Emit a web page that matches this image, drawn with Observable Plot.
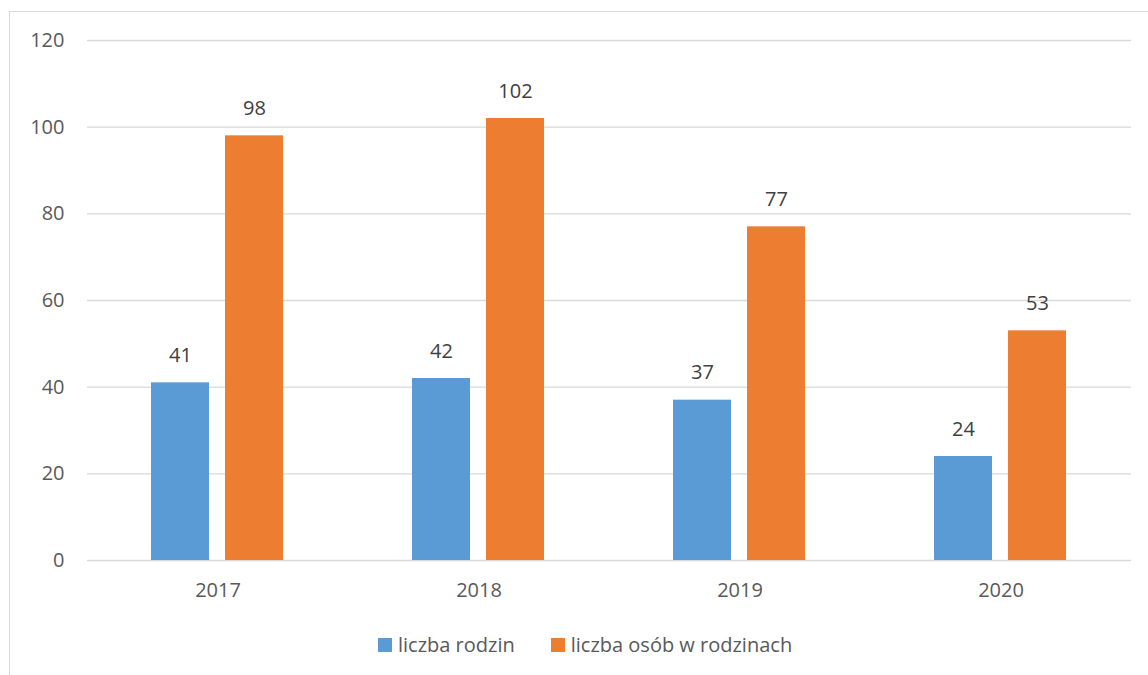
<!DOCTYPE html>
<html>
<head>
<meta charset="utf-8">
<script src="https://cdn.jsdelivr.net/npm/d3@7"></script>
<script src="https://cdn.jsdelivr.net/npm/@observablehq/plot@0.6"></script>
<style>
  html, body { margin: 0; padding: 0; background: #fff; }
  body { width: 1148px; height: 675px; overflow: hidden; position: relative; font-family: "Open Sans", sans-serif; }
  #frame { position: absolute; left: 9px; top: 11px; width: 1200px; height: 700px; border-left: 1px solid #d9d9d9; border-top: 1px solid #d9d9d9; box-sizing: border-box; pointer-events: none; }
  #chart { position: absolute; left: 0; top: 0; }
  #legend { position: absolute; left: 378px; top: 631px; display: flex; align-items: center; font-size: 20px; color: #595959; white-space: nowrap; }
  .item { display: flex; align-items: center; margin-right: 36px; }
  .sw { width: 14px; height: 14px; margin-right: 6px; }
</style>
</head>
<body>
<div id="chart"></div>
<div id="frame"></div>
<div id="legend"></div>
<script>
const years = ["2017", "2018", "2019", "2020"];
const seriesNames = ["liczba rodzin", "liczba osób w rodzinach"];
const rodziny = [41, 42, 37, 24];
const osoby = [98, 102, 77, 53];
const colors = ["#5B9BD5", "#ED7D31"];
const yTicks = [0, 20, 40, 60, 80, 100, 120];

const data = [];
years.forEach((y, i) => {
  data.push({year: y, series: seriesNames[0], value: rodziny[i]});
  data.push({year: y, series: seriesNames[1], value: osoby[i]});
});

const chart = Plot.plot({
  width: 1148,
  height: 620,
  marginLeft: 85,
  marginRight: 16,
  marginTop: 40,
  marginBottom: 60,
  style: {fontFamily: "Open Sans, sans-serif", fontSize: "20px", color: "#595959", background: "transparent"},
  fx: {domain: years, padding: 0, label: null},
  x: {domain: seriesNames, paddingInner: 0.214, paddingOuter: 0.86, axis: null},
  y: {domain: [0, 120], label: null},
  color: {domain: seriesNames, range: colors},
  marks: [
    Plot.gridY(yTicks, {stroke: "#d9d9d9", strokeOpacity: 1, strokeWidth: 1.3}),
    Plot.axisY(yTicks, {tickSize: 0, tickPadding: 23, fill: "#595959", fontSize: 20, label: null}),
    Plot.axisFx({anchor: "bottom", tickSize: 0, tickPadding: 22, fill: "#595959", fontSize: 20, label: null}),
    Plot.barY(data, {fx: "year", x: "series", y: "value", fill: "series"}),
    Plot.text(data, {fx: "year", x: "series", y: "value", text: d => String(d.value), lineAnchor: "bottom", dy: -21, fill: "#404040", fontSize: 20})
  ]
});
document.getElementById("chart").appendChild(chart);

const legend = document.getElementById("legend");
seriesNames.forEach((s, i) => {
  const item = document.createElement("div");
  item.className = "item";
  const sw = document.createElement("div");
  sw.className = "sw";
  sw.style.background = colors[i];
  const t = document.createElement("span");
  t.textContent = s;
  item.appendChild(sw);
  item.appendChild(t);
  legend.appendChild(item);
});
</script>
</body>
</html>
